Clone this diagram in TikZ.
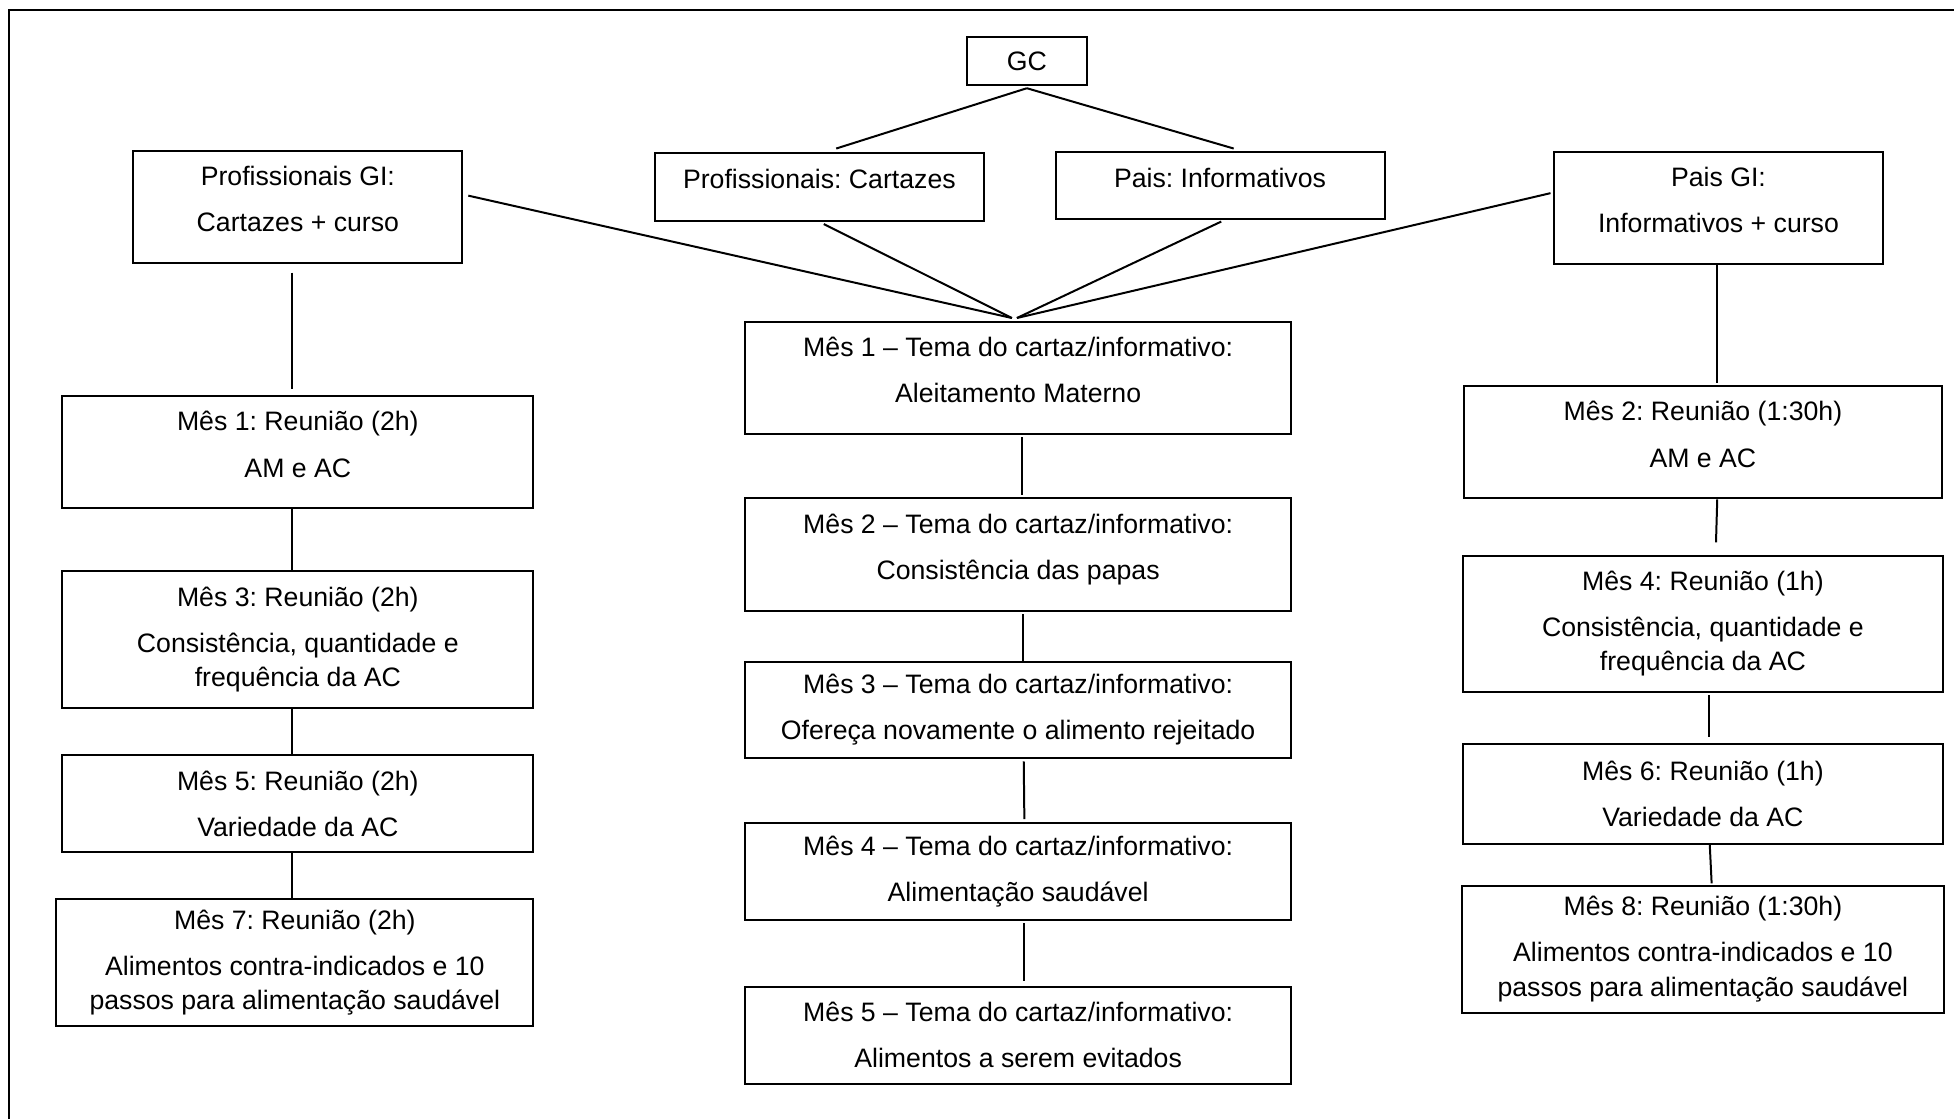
\documentclass[tikz,border=0pt]{standalone}
\usepackage{fontspec}
\setmainfont{Liberation Sans}
\usetikzlibrary{positioning}
\frenchspacing

\tikzset{
  box/.style={draw, line width=0.8pt, align=center, inner sep=2pt,
    font=\fontsize{10.7pt}{13.7pt}\selectfont},
  up/.style={text depth=6.5pt},
  link/.style={line width=0.8pt},
}

\begin{document}
\begin{tikzpicture}[x=0.5pt, y=-0.5pt]
    \useasboundingbox (0,0) rectangle (1568,898);
    \draw[line width=0.8pt] (7,898) -- (7,8) -- (1568,8);

    \node[box, minimum width=48pt, minimum height=19pt] (gc) at (824,49) {GC};
    \node[box, up, minimum width=132pt, minimum height=27pt] (pc) at (657.5,150) {Profissionais: Cartazes};
    \node[box, up, minimum width=132pt, minimum height=27pt] (pi) at (979,149) {Pais: Informativos};
    \node[box, up, minimum width=132pt, minimum height=45pt] (pgi) at (239,166) {Profissionais GI:\\[4.8pt]Cartazes + curso};
    \node[box, up, minimum width=132pt, minimum height=45pt] (pagi) at (1379,167) {Pais GI:\\[4.8pt]Informativos + curso};

    % centro
    \node[box, up, minimum width=219pt, minimum height=45pt] (c1) at (817,303) {Mês 1 – Tema do cartaz/informativo:\\[4.8pt]Aleitamento Materno};
    \node[box, up, minimum width=219pt, minimum height=45pt] (c2) [below=25.2pt of c1] {Mês 2 – Tema do cartaz/informativo:\\[4.8pt]Consistência das papas};
    \node[box, minimum width=219pt, minimum height=38.5pt] (c3) [below=19.8pt of c2] {Mês 3 – Tema do cartaz/informativo:\\[4.8pt]Ofereça novamente o alimento rejeitado};
    \node[box, minimum width=219pt, minimum height=39pt] (c4) [below=25.2pt of c3] {Mês 4 – Tema do cartaz/informativo:\\[4.8pt]Alimentação saudável};
    \node[box, minimum width=219pt, minimum height=39pt] (c5) [below=26pt of c4] {Mês 5 – Tema do cartaz/informativo:\\[4.8pt]Alimentos a serem evitados};

    % esquerda
    \node[box, up, minimum width=189pt, minimum height=45pt] (l1) at (239,363) {Mês 1: Reunião (2h)\\[4.8pt]AM e AC};
    \node[box, minimum width=189pt, minimum height=55pt] (l3) [below=24.2pt of l1] {Mês 3: Reunião (2h)\\[4.8pt]Consistência, quantidade e\\frequência da AC};
    \node[box, minimum width=189pt, minimum height=39pt] (l5) [below=18.2pt of l3] {Mês 5: Reunião (2h)\\[4.8pt]Variedade da AC};
    \node[box, minimum width=191.5pt, minimum height=51pt] (l7) [below=18pt of l5, xshift=-1.2pt] {Mês 7: Reunião (2h)\\[4.8pt]Alimentos contra-indicados e 10\\passos para alimentação saudável};

    % direita
    \node[box, up, minimum width=191.5pt, minimum height=45pt] (r2) at (1366.5,355) {Mês 2: Reunião (1:30h)\\[4.8pt]AM e AC};
    \node[box, minimum width=192.5pt, minimum height=54.5pt] (r4) [below=22.2pt of r2] {Mês 4: Reunião (1h)\\[4.8pt]Consistência, quantidade e\\frequência da AC};
    \node[box, minimum width=192.5pt, minimum height=40pt] (r6) [below=20.2pt of r4] {Mês 6: Reunião (1h)\\[4.8pt]Variedade da AC};
    \node[box, minimum width=193.5pt, minimum height=51pt] (r8) [below=16pt of r6] {Mês 8: Reunião (1:30h)\\[4.8pt]Alimentos contra-indicados e 10\\passos para alimentação saudável};

    \coordinate (hubl) at ([xshift=-2.5pt,yshift=1pt]c1.north);
    \coordinate (hubr) at ([xshift=-0.5pt,yshift=1pt]c1.north);

    \path[link]
        ([yshift=-1pt]gc.south) edge ([xshift=6.75pt,yshift=1.5pt]pc.north)
        ([yshift=-1pt]gc.south) edge ([xshift=5.5pt,yshift=1pt]pi.north)

        ([xshift=2pt,yshift=4.5pt]pgi.east) edge (hubl)
        ([xshift=1.75pt,yshift=-1pt]pc.south) edge (hubl)
        ([xshift=0.5pt,yshift=-0.5pt]pi.south) edge (hubr)
        ([xshift=-1pt,yshift=6pt]pagi.west) edge (hubr)

        ([xshift=-2.5pt,yshift=-3.5pt]pgi.south) edge ([xshift=-2.5pt,yshift=2.5pt]l1.north)
        ([xshift=-2.5pt]l1.south) edge ([xshift=-2.5pt]l3.north)
        ([xshift=-2.5pt]l3.south) edge ([xshift=-2.5pt]l5.north)
        ([xshift=-2.5pt]l5.south) edge ([xshift=-1.3pt]l7.north)

        ([xshift=1.5pt,yshift=-1pt]c1.south) edge ([xshift=1.5pt,yshift=1pt]c2.north)
        ([xshift=2pt,yshift=-1pt]c2.south) edge ([xshift=2pt]c3.north)
        ([xshift=2.25pt,yshift=-1pt]c3.south) edge ([xshift=2.5pt,yshift=1pt]c4.north)
        ([xshift=2.5pt,yshift=-1pt]c4.south) edge ([xshift=2.5pt,yshift=2pt]c5.north)

        ([xshift=-0.5pt]pagi.south) edge ([xshift=5.75pt,yshift=1pt]r2.north)
        ([xshift=5.75pt]r2.south) edge ([xshift=5.25pt,yshift=5pt]r4.north)
        ([xshift=2.25pt,yshift=-1pt]r4.south) edge ([xshift=2.25pt,yshift=2.5pt]r6.north)
        ([xshift=2.75pt]r6.south) edge ([xshift=3.5pt,yshift=0.5pt]r8.north);
\end{tikzpicture}
\end{document}
